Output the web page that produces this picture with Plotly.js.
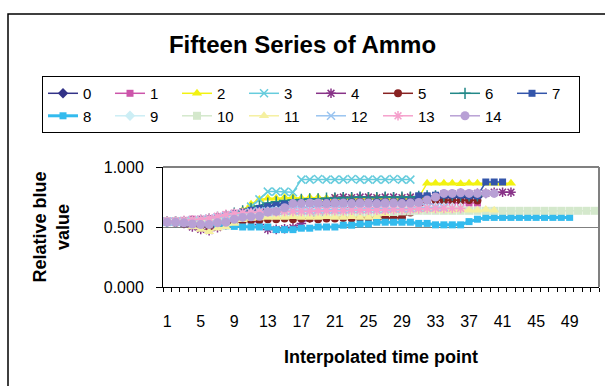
<!DOCTYPE html>
<html>
<head>
<meta charset="utf-8">
<script src="https://cdn.plot.ly/plotly-3.0.1.min.js"></script>
<style>
  html, body { margin: 0; padding: 0; background: #ffffff; }
  #chart { width: 605px; height: 386px; }
</style>
</head>
<body>
<div id="chart"></div>
<script>
// Interpolated time points (category axis 1..52)
const timePoints = Array.from({length: 52}, (_, i) => i + 1);
const seriesNames = ['0','1','2','3','4','5','6','7','8','9','10','11','12','13','14'];

// Relative blue value per series
const s0 = [0.545,0.545,0.540,0.535,0.540,0.550,0.560,0.575,0.590,0.610,0.625,0.640,
  0.670,0.680,0.690,0.700,0.705,0.705,0.700,0.705,0.710,0.705,0.710,0.710,0.705,0.710,0.710,0.710,0.715,0.715,
  0.730,0.745,0.750,0.750,0.755,0.750,0.750,0.750];
const s1 = [0.550,0.550,0.555,0.565,0.565,0.570,0.585,0.600,0.615,0.625,0.630,0.635,
  0.640,0.645,0.650,0.655,0.655,0.660,0.660,0.655,0.660,0.660,0.665,0.660,0.660,0.665,0.665,0.660,0.665,0.665,
  0.675,0.690,0.700,0.700,0.705,0.700,0.700,0.700];
const s2 = [0.545,0.545,0.540,0.545,0.550,0.555,0.565,0.575,0.600,0.640,0.690,0.730,
  0.740,0.740,0.745,0.745,0.740,0.745,0.745,0.740,0.745,0.745,0.745,0.740,0.745,0.745,0.745,0.740,0.745,0.745,0.745,
  0.865,0.865,0.865,0.865,0.860,0.865,0.865,0.865,0.865,0.865,0.865];
const s3 = [0.545,0.545,0.545,0.540,0.550,0.555,0.560,0.570,0.590,0.610,0.670,0.730,
  0.795,0.795,0.795,0.790,
  0.895,0.895,0.900,0.895,0.895,0.895,0.900,0.895,0.895,0.895,0.895,0.900,0.895,0.895];
const s4 = [0.540,0.540,0.530,0.500,0.480,0.470,0.495,0.520,0.545,0.565,0.575,0.520,
  0.480,0.480,0.485,0.495,0.530,0.575,0.600,0.680,
  0.745,0.750,0.745,0.750,0.750,0.745,0.750,0.750,0.745,0.750,0.750,0.750,0.755,
  0.775,0.775,0.780,0.775,0.780,0.780,0.790,0.790,0.790];
const s5 = [0.540,0.535,0.530,0.520,0.510,0.505,0.510,0.520,0.535,0.550,0.555,0.560,
  0.565,0.565,0.570,0.565,0.570,0.570,0.565,0.570,0.570,0.575,0.570,0.575,0.575,0.570,0.575,0.575,0.580,0.620,
  0.690,0.720,0.725,0.720,0.725,0.720,0.725,0.720];
const s6 = [0.545,0.545,0.545,0.550,0.555,0.565,0.580,0.595,0.615,0.635,0.655,0.675,
  0.700,0.710,0.720,0.725,0.730,0.735,0.735,0.740,0.740,0.745,0.745,0.750,0.745,0.745,0.750,0.745,0.750,0.750,
  0.755,0.760,0.760,0.760,0.765,0.760,0.760,0.760];
const s7 = [0.545,0.545,0.545,0.550,0.560,0.570,0.580,0.595,0.610,0.625,0.640,0.655,
  0.670,0.680,0.690,0.695,0.700,0.700,0.700,0.705,0.700,0.705,0.705,0.700,0.705,0.705,0.705,0.705,0.710,0.710,
  0.760,0.760,0.765,0.765,0.765,0.765,0.760,0.760,0.875,0.875,0.875];
const s8 = [0.540,0.540,0.535,0.530,0.525,0.520,0.515,0.510,0.505,0.500,0.500,0.500,0.500,
  0.478,0.478,0.478,0.490,0.490,0.500,0.500,0.500,0.515,0.515,0.525,0.525,
  0.540,0.540,0.540,0.540,0.540,0.530,0.530,0.518,0.518,0.518,0.518,0.545,0.565,
  0.580,0.580,0.580,0.580,0.580,0.580,0.580,0.580,0.580,0.580,0.580];
const s9 = [0.545,0.545,0.545,0.545,0.550,0.555,0.565,0.575,0.590,0.600,0.610,0.620,
  0.630,0.635,0.640,0.640,0.645,0.645,0.650,0.645,0.650,0.650,0.650,0.655,0.650,0.655,0.655,0.655,0.655,0.660,
  0.660,0.665,0.665,0.665,0.665,0.665];
const s10 = [0.545,0.545,0.545,0.545,0.550,0.555,0.560,0.565,0.575,0.585,0.590,0.595,
  0.600,0.605,0.605,0.610,0.610,0.610,0.615,0.615,0.615,0.620,0.620,0.620,0.620,0.625,0.625,0.625,0.630,0.630,
  0.635,0.635,0.635,0.635,0.635,0.635,0.635,0.635,0.635,0.635,0.635,0.635,0.635,0.635,0.635,0.635,0.635,0.635,
  0.635,0.635,0.635,0.635];
const s11 = [0.545,0.545,0.540,0.500,0.480,0.460,0.490,0.500,0.530,0.560,0.570,0.575,
  0.580,0.580,0.580,0.585,0.580,0.580,0.580,0.585,0.580,0.580,0.585,0.580,0.580,0.585,
  0.610,0.640,0.640,0.640,0.640,0.645,0.640,0.640,0.640,0.645,0.640,0.640,0.645,0.640];
const s12 = [0.545,0.545,0.550,0.555,0.560,0.570,0.580,0.595,0.605,0.615,0.625,0.630,
  0.630,0.635,0.635,0.640,0.640,0.640,0.645,0.645,0.645,0.645,0.650,0.650,0.650,0.650,0.650,0.655,0.655,0.655,
  0.660,0.660,0.665,0.665];
const s13 = [0.550,0.550,0.555,0.560,0.565,0.575,0.590,0.605,0.615,0.620,0.620,0.625,
  0.625,0.625,0.630,0.630,0.630,0.630,0.635,0.635,0.635,0.635,0.640,0.640,0.640,0.640,0.640,0.645,0.645,0.645,
  0.650,0.655,0.655,0.655,0.655,0.655];
const s14 = [0.540,0.540,0.535,0.525,0.520,0.520,0.535,0.540,0.565,0.580,0.585,0.590,
  0.625,0.630,0.660,0.695,
  0.695,0.700,0.700,0.695,0.700,0.700,0.695,0.700,0.700,0.695,0.700,0.700,0.695,0.700,
  0.705,0.725,0.750,0.780,0.780,0.785,0.780,0.780,0.780,0.780];

const seriesValues = [s0,s1,s2,s3,s4,s5,s6,s7,s8,s9,s10,s11,s12,s13,s14];
const seriesColors = ['#333388','#cc55aa','#f2f211','#66ccdd','#883388','#882222','#228888','#3355aa',
  '#33bbee','#cceef5','#d4e8cc','#f5f0a0','#99c4f0','#f5a0cc','#b8a0d5'];
const seriesSymbols = ['diamond','square','triangle-up','x-thin-open','asterisk-open','circle','cross-thin-open','square',
  'square','diamond','square','triangle-up','x-thin-open','asterisk-open','circle'];
const seriesSizes = [8,7,9,8,8,8,8,7,7,8,8,9,8,8,9];

const FONT = 'Liberation Sans, Arial, sans-serif';

const traces = seriesValues.map((vals, i) => ({
  type: 'scatter',
  mode: 'lines+markers',
  name: seriesNames[i],
  x: timePoints.slice(0, vals.length),
  y: vals,
  line: {color: seriesColors[i], width: i === 8 ? 3 : 1.5},
  marker: {
    symbol: seriesSymbols[i],
    size: seriesSizes[i],
    color: seriesColors[i],
    line: {color: seriesColors[i], width: seriesSymbols[i].endsWith('-open') ? 1.5 : 0}
  }
}));

const layout = {
  width: 605,
  height: 386,
  paper_bgcolor: '#ffffff',
  plot_bgcolor: '#ffffff',
  margin: {l: 163, r: 6, t: 167, b: 99, pad: 0},
  font: {family: FONT, size: 16, color: '#000000'},
  title: {
    text: '<b>Fifteen Series of Ammo</b>',
    font: {family: FONT, size: 24, color: '#000000'},
    x: 0.5, xref: 'container', xanchor: 'center',
    y: 0.885, yref: 'container', yanchor: 'middle'
  },
  showlegend: true,
  legend: {
    orientation: 'h',
    x: -0.2775, xanchor: 'left',
    y: 1.758, yanchor: 'top',
    bordercolor: '#000000', borderwidth: 1,
    bgcolor: '#ffffff',
    font: {family: FONT, size: 15, color: '#000000'},
    entrywidth: 22,
    entrywidthmode: 'pixels',
    tracegroupgap: 0,
    itemclick: false
  },
  xaxis: {
    range: [0.5, 52.5],
    tickmode: 'linear', tick0: 1, dtick: 4,
    ticks: '',
    ticklabelstandoff: 20,
    tickfont: {family: FONT, size: 16, color: '#000000'},
    showline: true, linecolor: '#000000', linewidth: 1,
    showgrid: false, zeroline: false,
    minor: {tickmode: 'linear', tick0: 0.5, dtick: 1, ticks: 'outside', ticklen: 4, tickcolor: '#000000', tickwidth: 1, showgrid: false},
    title: {text: '<b>Interpolated time point</b>', font: {family: FONT, size: 18, color: '#000000'}, standoff: 21},
    fixedrange: true
  },
  yaxis: {
    range: [0, 1],
    tickvals: [0, 0.5, 1],
    tickformat: '.3f',
    ticks: 'outside', ticklen: 6, tickcolor: '#000000',
    ticklabelstandoff: 9,
    tickfont: {family: FONT, size: 16, color: '#000000'},
    showline: true, linecolor: '#000000', linewidth: 1,
    showgrid: true, gridcolor: '#808080', gridwidth: 1,
    zeroline: false,
    title: {text: '<b>Relative blue<br>value</b>', font: {family: FONT, size: 18, color: '#000000'}, standoff: 29},
    fixedrange: true
  },
  shapes: [
    // outer chart frame
    {type: 'rect', xref: 'paper', yref: 'paper', x0: -0.3555, x1: 1.2, y0: -1.2, y1: 2.275,
     line: {color: '#000000', width: 1.5}, fillcolor: 'rgba(0,0,0,0)', layer: 'below'},
    // plot area border (top and right)
    {type: 'line', xref: 'paper', yref: 'paper', x0: 0, x1: 1, y0: 1, y1: 1, line: {color: '#808080', width: 2}},
    {type: 'line', xref: 'paper', yref: 'paper', x0: 1, x1: 1, y0: 0, y1: 1, line: {color: '#808080', width: 2}}
  ]
};

Plotly.newPlot('chart', traces, layout, {displayModeBar: false, staticPlot: true});
</script>
</body>
</html>
